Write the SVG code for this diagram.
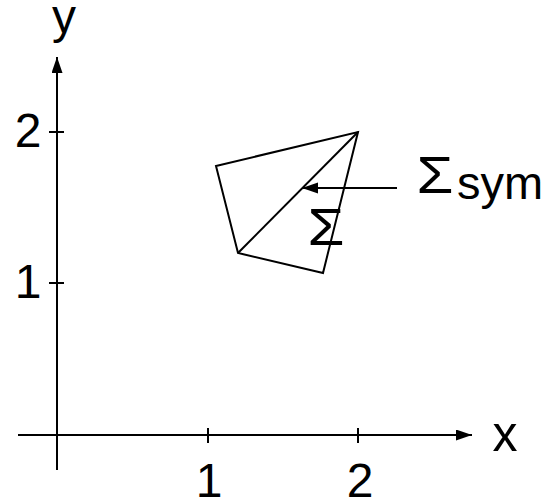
<svg xmlns="http://www.w3.org/2000/svg" width="548" height="499" viewBox="0 0 548 499">
<style>
.ln{stroke:#000;stroke-width:2;fill:none;stroke-linejoin:miter}
.t{font-family:"Liberation Sans","DejaVu Sans",sans-serif;fill:#000}
</style>
<defs>
<marker id="ah" markerUnits="userSpaceOnUse" markerWidth="17" markerHeight="12" refX="16" refY="5.5" orient="auto">
<path d="M0,0 L16,5.5 L0,11 z" fill="#000"/>
</marker>
</defs>
<rect width="548" height="499" fill="#fff"/>
<g id="axes">
<line class="ln" x1="57" y1="470" x2="57" y2="57" marker-end="url(#ah)"/>
<line class="ln" x1="18" y1="435" x2="472" y2="435" marker-end="url(#ah)"/>
<line class="ln" x1="49" y1="132" x2="64" y2="132"/>
<line class="ln" x1="49" y1="283" x2="64" y2="283"/>
<line class="ln" x1="208" y1="428" x2="208" y2="443"/>
<line class="ln" x1="358" y1="428" x2="358" y2="443"/>
</g>
<g id="labels">
<text class="t" x="64" y="33" font-size="48" text-anchor="middle">y</text>
<text class="t" x="505" y="451" font-size="50" text-anchor="middle">x</text>
<text class="t" x="28" y="147" font-size="48" text-anchor="middle">2</text>
<text class="t" x="28" y="298" font-size="48" text-anchor="middle">1</text>
<text class="t" x="209" y="497" font-size="48" text-anchor="middle">1</text>
<text class="t" x="360" y="497" font-size="48" text-anchor="middle">2</text>
</g>
<g id="shape">
<polygon class="ln" points="216,166 358,132 323,273 238,253"/>
<line class="ln" x1="238" y1="253" x2="358" y2="132"/>
</g>
<g id="connectors">
<line class="ln" x1="397" y1="188" x2="302" y2="188" marker-end="url(#ah)"/>
</g>
<g id="sigma">
<text class="t" x="326" y="245" font-size="52" text-anchor="middle" transform="translate(326 0) scale(1.15 1) translate(-326 0)">Σ</text>
</g>
<g id="sigma-sym">
<text class="t" x="435" y="193" font-size="52" text-anchor="middle" transform="translate(435 0) scale(1.15 1) translate(-435 0)">Σ</text>
<text class="t" x="457" y="199" font-size="47">sym</text>
</g>
</svg>
